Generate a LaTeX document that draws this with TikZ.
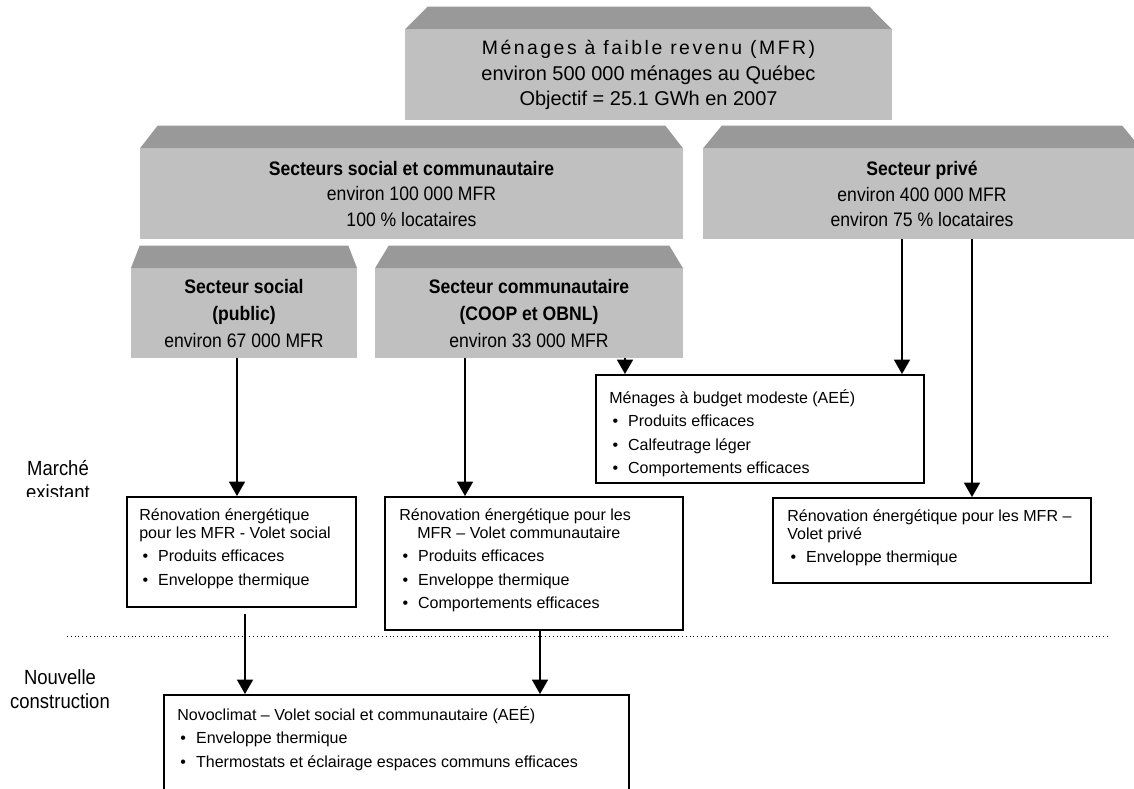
\documentclass[tikz,border=0pt]{standalone}
\usepackage{fontspec}
\setmainfont{Liberation Sans}
\newfontfamily\narrowfont[FakeStretch=0.9]{Liberation Sans}
\newfontfamily\spacedfont[LetterSpace=13]{Liberation Sans}
\usetikzlibrary{arrows.meta, positioning, calc}
\definecolor{facegrey}{RGB}{192,192,192}
\definecolor{roofgrey}{RGB}{153,153,153}
\newcommand{\puce}{\makebox[0.47cm][l]{\hspace{0.08cm}•}}
\newcommand{\drawroof}[2]{\fill[roofgrey] (#1.north west) -- ++(#2,0.58) -- ([shift={(-#2,0.58)}]#1.north east) -- (#1.north east) -- cycle;}

\begin{document}
\begin{tikzpicture}[
  arrow/.style={-{Triangle[width=0.4cm, length=0.36cm]}, line width=1.2pt},
  face/.style={fill=facegrey, inner sep=0pt, align=center, font=\narrowfont\fontsize{13.9}{18}\selectfont},
  prog/.style={draw, line width=1.4pt, inner sep=0pt},
  progtext/.style={anchor=north west, inner sep=0pt, align=left, font=\fontsize{11.4}{12.8}\selectfont},
  side/.style={align=center, font=\narrowfont\fontsize{14.6}{17.2}\selectfont}
]
  \useasboundingbox (0,0) rectangle (28.35,-19.725);
  \clip (0,0) rectangle (28.35,-19.725);

  % All low income households
  \node[face, minimum width=12.175cm, minimum height=2.25cm, font=\fontsize{14.2}{18.3}\selectfont] (mfr) at (16.2125,-1.875) {{\spacedfont\fontsize{13.8}{18.3}\selectfont Ménages à faible revenu (MFR)}\\environ 500 000 ménages au Québec\\Objectif = 25.1 GWh en 2007};
  \drawroof{mfr}{0.575}

  % Sectors
  \node[face, minimum width=13.575cm, minimum height=2.25cm] (socom) at (10.2875,-4.85) {\textbf{Secteurs social et communautaire}\\environ 100 000 MFR\\100 \% locataires};
  \drawroof{socom}{0.45}
  \node[face, minimum width=10.95cm, minimum height=2.25cm] (prive) at (23.05,-4.85) {\textbf{Secteur privé}\\environ 400 000 MFR\\environ 75 \% locataires};
  \drawroof{prive}{0.48}

  % Sub-sectors
  \node[face, minimum width=5.65cm, minimum height=2.225cm, font=\narrowfont\fontsize{13.9}{19.5}\selectfont] (social) at (6.1,-7.8375) {\textbf{Secteur social}\\\textbf{(public)}\\environ 67 000 MFR};
  \drawroof{social}{0.225}
  \node[face, minimum width=7.7cm, minimum height=2.225cm, font=\narrowfont\fontsize{13.9}{19.5}\selectfont] (commun) at (13.225,-7.8375) {\textbf{Secteur communautaire}\\\textbf{(COOP et OBNL)}\\environ 33 000 MFR};
  \drawroof{commun}{0.35}

  % Programs, existing market
  \node[prog, minimum width=8.2cm, minimum height=2.7cm] (budget) at (19.0,-10.725) {};
  \node[progtext] (budgettxt) at ([shift={(0.35,-0.375)}]budget.north west) {Ménages à budget modeste (AEÉ)\\[3.9pt]\puce Produits efficaces\\[3.9pt]\puce Calfeutrage léger\\[3.9pt]\puce Comportements efficaces};

  \node[prog, minimum width=5.725cm, minimum height=2.75cm] (renosoc) at (6.0375,-13.8) {};
  \node[progtext] (renosoctxt) at ([shift={(0.325,-0.3)}]renosoc.north west) {Rénovation énergétique\\pour les MFR - Volet social\\[3.9pt]\puce Produits efficaces\\[3.9pt]\puce Enveloppe thermique};

  \node[prog, minimum width=7.45cm, minimum height=3.325cm] (renocom) at (13.35,-14.0875) {};
  \node[progtext] (renocomtxt) at ([shift={(0.375,-0.3)}]renocom.north west) {Rénovation énergétique pour les\\\hspace*{0.45cm}MFR – Volet communautaire\\[3.9pt]\puce Produits efficaces\\[3.9pt]\puce Enveloppe thermique\\[3.9pt]\puce Comportements efficaces};

  \node[prog, minimum width=7.95cm, minimum height=2.125cm] (renopriv) at (23.3,-13.5125) {};
  \node[progtext] (renoprivtxt) at ([shift={(0.375,-0.3)}]renopriv.north west) {Rénovation énergétique pour les MFR –\\Volet privé\\[3.9pt]\puce Enveloppe thermique};

  % New construction
  \node[prog, minimum width=11.625cm, minimum height=4cm] (novo) at (9.9125,-19.375) {};
  \node[progtext] (novotxt) at ([shift={(0.35,-0.3)}]novo.north west) {Novoclimat – Volet social et communautaire (AEÉ)\\[3.9pt]\puce Enveloppe thermique\\[3.9pt]\puce Thermostats et éclairage espaces communs efficaces};

  % Market labels
  \begin{scope}
    \clip (0,-11) rectangle (5,-12.41);
    \node[side] (marche) at (1.45,-12.0) {Marché\\existant};
  \end{scope}
  \node[side] (nouvelle) at (1.5,-17.2375) {Nouvelle\\construction};

  \draw[dotted, line width=0.7pt] (1.675,-15.9125) -- (27.75,-15.9125);

  % Arrows
  \draw[arrow] ([xshift=-0.175cm]social.south) -- ([xshift=-0.175cm]social.south |- renosoc.north);
  \draw[arrow] ([xshift=-1.6cm]commun.south) -- ([xshift=-1.6cm]commun.south |- renocom.north);
  \draw[arrow] ([xshift=2.4cm]commun.south) -- ([xshift=2.4cm]commun.south |- budget.north);
  \draw[arrow] ([xshift=-0.5cm]prive.south) -- ([xshift=-0.5cm]prive.south |- budget.north);
  \draw[arrow] ([xshift=1.25cm]prive.south) -- ([xshift=1.25cm]prive.south |- renopriv.north);
  \draw[arrow] ([shift={(0.0875,-0.15)}]renosoc.south) -- ([xshift=0.0875cm]renosoc.south |- novo.north);
  \draw[arrow] ([xshift=0.15cm]renocom.south) -- ([xshift=0.15cm]renocom.south |- novo.north);
\end{tikzpicture}
\end{document}
